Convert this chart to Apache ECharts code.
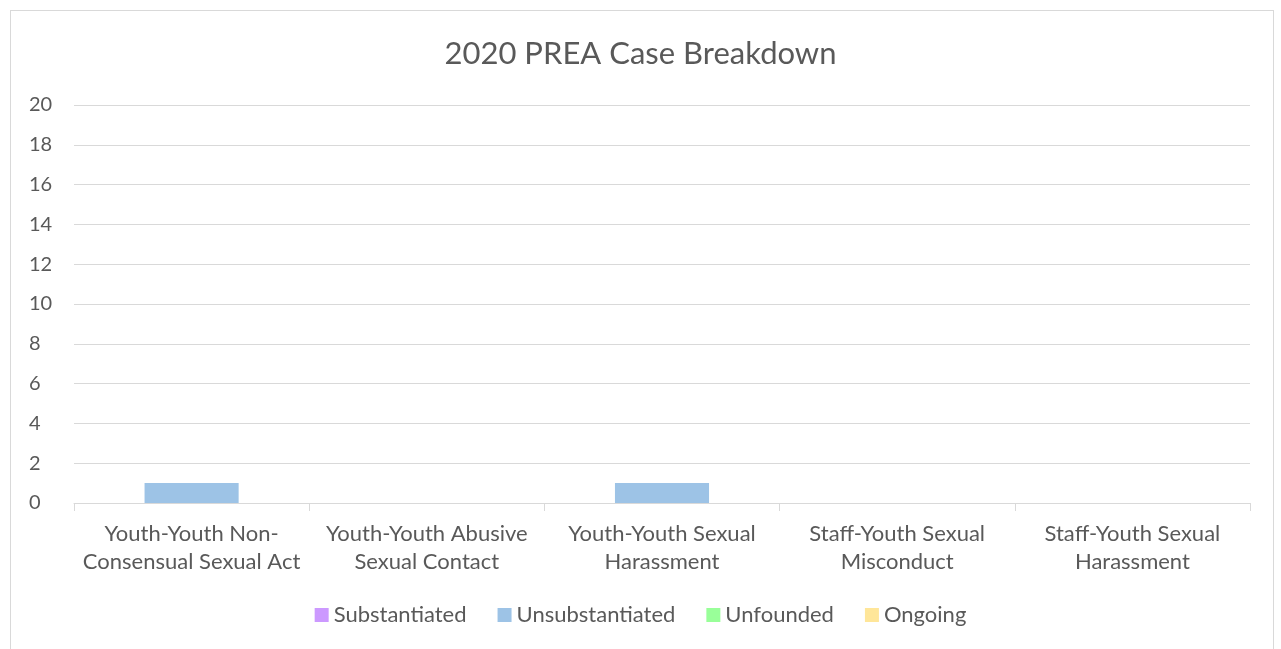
<!DOCTYPE html>
<html>
<head>
<meta charset="utf-8">
<script src="https://cdn.jsdelivr.net/npm/echarts@6/dist/echarts.min.js"></script>
<style>
  html, body { margin: 0; padding: 0; background: #fff; }
  #frame { position: absolute; left: 10px; top: 10px; width: 1264px; height: 650px; border: 1px solid #d9d9d9; box-sizing: border-box; }
  #chart { position: absolute; left: 0; top: 0; width: 1281px; height: 649px; }
</style>
</head>
<body>
<div id="frame"></div>
<div id="chart"></div>
<script>
// 2020 PREA case breakdown
const categories = [
  'Youth-Youth Non-\nConsensual Sexual Act',
  'Youth-Youth Abusive\nSexual Contact',
  'Youth-Youth Sexual\nHarassment',
  'Staff-Youth Sexual\nMisconduct',
  'Staff-Youth Sexual\nHarassment'
];
const substantiated = [0, 0, 0, 0, 0];
const unsubstantiated = [1, 0, 1, 0, 0];
const unfounded = [0, 0, 0, 0, 0];
const ongoing = [0, 0, 0, 0, 0];

const font = 'Lato, "Open Sans", sans-serif';
const textColor = '#595959';

function bar (name, data, color) {
  return {
    name: name,
    type: 'bar',
    stack: 'total',
    data: data,
    barWidth: '40%',
    itemStyle: { color: color }
  };
}

const myChart = echarts.init(document.getElementById('chart'));
myChart.setOption({
  animation: false,
  title: {
    text: '2020 PREA Case Breakdown',
    left: 'center',
    top: 33,
    textStyle: { fontFamily: font, fontSize: 31, fontWeight: 'normal', color: textColor }
  },
  grid: { left: 74, right: 31, top: 105, bottom: 146, containLabel: false },
  legend: {
    bottom: 18,
    left: 'center',
    itemWidth: 14,
    itemHeight: 14,
    itemGap: 31,
    icon: 'rect',
    textStyle: { fontFamily: font, fontSize: 22, color: textColor }
  },
  xAxis: {
    type: 'category',
    data: categories,
    axisLine: { lineStyle: { color: '#d9d9d9', width: 1 } },
    axisTick: { show: true, length: 8, lineStyle: { color: '#d9d9d9' } },
    axisLabel: {
      fontFamily: font, fontSize: 22, color: textColor,
      lineHeight: 28, margin: 17, interval: 0
    }
  },
  yAxis: {
    type: 'value',
    min: 0,
    max: 20,
    interval: 2,
    axisLine: { show: false },
    axisTick: { show: false },
    axisLabel: { fontFamily: font, fontSize: 20, color: textColor, margin: 45, align: 'left' },
    splitLine: { lineStyle: { color: '#d9d9d9' } }
  },
  series: [
    bar('Substantiated', substantiated, '#cc99ff'),
    bar('Unsubstantiated', unsubstantiated, '#9dc3e6'),
    bar('Unfounded', unfounded, '#99ff99'),
    bar('Ongoing', ongoing, '#ffe699')
  ]
});
window.onresize = myChart.resize;
</script>
</body>
</html>
